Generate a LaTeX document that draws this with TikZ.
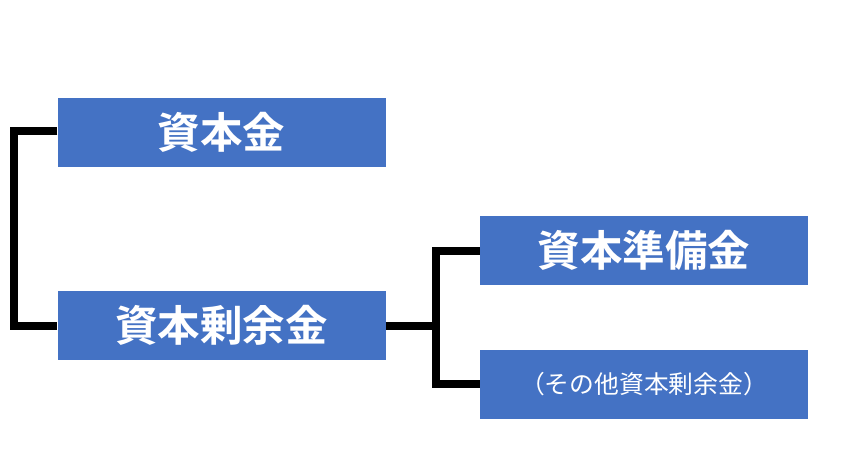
\documentclass[tikz,border=0pt]{standalone}
\usepackage{fontspec}
\newfontfamily\cjk{Noto Sans CJK JP}
\newfontfamily\cjkb{Noto Sans CJK JP Bold}
\definecolor{boxblue}{HTML}{4472C4}
\begin{document}
\begin{tikzpicture}[x=1pt,y=-1pt,
  box/.style={fill=boxblue,draw=none,minimum width=328pt,minimum height=69pt,inner sep=0pt,text=white},
  conn/.style={line width=8.5pt,black,line cap=butt}]
\useasboundingbox (0,0) rectangle (864,456);
\node[box,font=\cjkb\fontsize{42.5}{42.5}\selectfont] (a) at (221.5,132) {資本金};
\node[box,font=\cjkb\fontsize{42.5}{42.5}\selectfont] (b) at (221.5,325) {資本剰余金};
\node[box,font=\cjkb\fontsize{42.5}{42.5}\selectfont] (c) at (644,250) {資本準備金};
\node[box,font=\cjk\fontsize{24.8}{24.8}\selectfont] (d) at (644,384) {（その他資本剰余金）};
\coordinate (lt) at (14,131);
\coordinate (lb) at (14,326);
\coordinate (rm) at (436,326);
\coordinate (rt) at (436,251);
\coordinate (rb) at (436,384);
\draw[conn] (a.west|-lt) -- (lt) -- (lb) -- (b.west|-lb);
\draw[conn] (b.east|-rm) -- (rm);
\draw[conn] (c.west|-rt) -- (rt) -- (rb) -- (d.west|-rb);
\end{tikzpicture}
\end{document}
